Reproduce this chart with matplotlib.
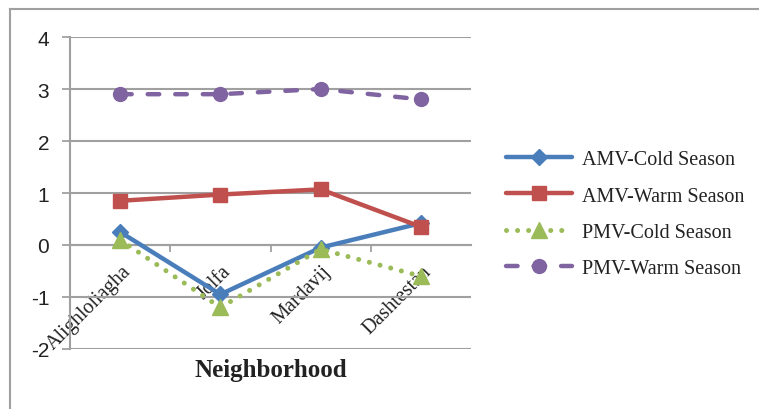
import matplotlib
matplotlib.use("Agg")
import matplotlib.pyplot as plt
from matplotlib.lines import Line2D
from matplotlib.transforms import ScaledTranslation

categories = ["Alighloliagha", "Jolfa", "Mardavij", "Dashtestan"]
amv_cold = [0.25, -0.95, -0.05, 0.42]
amv_warm = [0.85, 0.97, 1.07, 0.35]
pmv_cold = [0.10, -1.20, -0.08, -0.60]
pmv_warm = [2.90, 2.90, 3.00, 2.80]
series_names = ["AMV-Cold Season", "AMV-Warm Season", "PMV-Cold Season", "PMV-Warm Season"]
y_ticks = [-2, -1, 0, 1, 2, 3, 4]

W, H = 759, 410
fig = plt.figure(figsize=(W / 100, H / 100), dpi=100)
ax = fig.add_axes([70 / W, 1 - 350 / H, (471 - 70) / W, (350 - 38) / H])

grid_c = "#A0A0A0"
x = list(range(len(categories)))

ax.plot(x, amv_cold, color="#4A7EBB", lw=3.2, marker="D", ms=8,
        solid_capstyle="round", label=series_names[0], zorder=3, clip_on=False)
ax.plot(x, amv_warm, color="#C0504D", lw=3.2, marker="s", ms=10,
        solid_capstyle="round", label=series_names[1], zorder=4, clip_on=False)
ax.plot(x, pmv_cold, color="#9BBB59", lw=3.6, marker="^", ms=11,
        dashes=(0.01, 2.2), dash_capstyle="round", label=series_names[2], zorder=5, clip_on=False)
ax.plot(x, pmv_warm, color="#8064A2", lw=3.2, marker="o", ms=10,
        dashes=(2.6, 3.6), dash_capstyle="round", label=series_names[3], zorder=6, clip_on=False)

ax.set_xlim(-0.5, len(categories) - 0.5)
ax.set_ylim(-2, 4)
ax.set_yticks(y_ticks)
ax.set_yticklabels([str(v) for v in y_ticks], fontfamily="Liberation Sans", fontsize=15,
                   color="#222222")
ax.yaxis.grid(True, color=grid_c, lw=1.5)
ax.set_axisbelow(True)
ax.tick_params(axis="y", direction="out", length=6, width=1.3, color=grid_c, pad=9)

for s in ["top", "right"]:
    ax.spines[s].set_visible(False)
ax.spines["left"].set_color(grid_c)
ax.spines["left"].set_linewidth(1.5)
ax.spines["bottom"].set_position(("data", 0))
ax.spines["bottom"].set_color(grid_c)
ax.spines["bottom"].set_linewidth(1.5)

ax.set_xticks([i + 0.5 for i in x[:-1]])
ax.set_xticklabels([])
ax.tick_params(axis="x", which="major", direction="out", length=5, width=1.3, color=grid_c)
ax.set_xticks(x, minor=True)
ax.set_xticklabels(categories, minor=True, rotation=45, ha="right", va="top",
                   rotation_mode="anchor", fontfamily="Liberation Serif", fontsize=14.5,
                   color="#222222")
ax.tick_params(axis="x", which="minor", length=0, pad=12)
for lbl in ax.get_xticklabels(minor=True):
    lbl.set_transform(lbl.get_transform() + ScaledTranslation(1 / 100, 0, fig.dpi_scale_trans))

ax.text(0.5, -21 / 312, "Neighborhood", transform=ax.transAxes, ha="center", va="center",
        fontfamily="Liberation Serif", fontweight="bold", fontsize=18, color="#222222")

fig.legend(loc="upper left", bbox_to_anchor=(506 / W, 1 - 151 / H), frameon=False,
           prop={"family": "Liberation Serif", "size": 14.5}, handlelength=3.3,
           handletextpad=0.45, labelspacing=0.86, borderpad=0, borderaxespad=0,
           numpoints=1, labelcolor="#222222")

fig.add_artist(Line2D([10 / W, 10 / W], [0, 1 - 10 / H], color=grid_c, lw=1.5,
                      transform=fig.transFigure))
fig.add_artist(Line2D([10 / W, 1], [1 - 10 / H, 1 - 10 / H], color=grid_c, lw=1.5,
                      transform=fig.transFigure))

fig.savefig("out.png", dpi=100)
